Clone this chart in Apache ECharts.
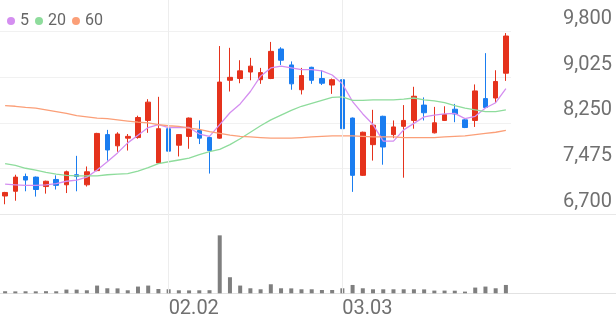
<!DOCTYPE html>
<html><head><meta charset="utf-8">
<script src="https://cdn.jsdelivr.net/npm/echarts@6/dist/echarts.min.js"></script>
<style>html,body{margin:0;padding:0;background:#fff}#c{width:616px;height:321px}</style>
</head><body><div id="c"></div>
<script>
const dates = ['2026-01-09','2026-01-12','2026-01-13','2026-01-14','2026-01-15','2026-01-16','2026-01-19','2026-01-20','2026-01-21','2026-01-22','2026-01-23','2026-01-26','2026-01-27','2026-01-28','2026-01-29','2026-01-30',
'2026-02-02','2026-02-03','2026-02-04','2026-02-05','2026-02-06','2026-02-09','2026-02-10','2026-02-11','2026-02-12','2026-02-13','2026-02-19','2026-02-20','2026-02-23','2026-02-24','2026-02-25','2026-02-26','2026-02-27',
'2026-03-03','2026-03-04','2026-03-05','2026-03-06','2026-03-09','2026-03-10','2026-03-11','2026-03-12','2026-03-13','2026-03-16','2026-03-17','2026-03-18','2026-03-19','2026-03-20','2026-03-23','2026-03-24','2026-03-25'];
const opens = [7010,7090,7340,7330,7170,7290,7200,7370,7200,7440, 8050,7860,7990,8000,8290,7570,8150,7870,8020,8120, 8000,7990,8970,9000,9110,8980,9000,9500,9230,8810, 9190,9000,8890,8980,8330,7360,7880,8360,8050,8190, 8290,8550,8080,8290,8480,8300,8290,8660,8670,9090];
const closes = [7070,7330,7280,7120,7260,7190,7420,7340,7420,8070, 7790,8060,8020,8340,8600,8150,7770,8050,8330,7990, 7780,8940,9020,9130,9210,9100,9460,9310,8910,9050, 8970,8920,8980,8150,7360,8090,8210,7840,8180,8290, 8700,8420,8250,8390,8400,8170,8790,8510,8950,9720];
const highs = [7080,7370,7390,7340,7270,7360,7440,7690,7510,8080, 8130,8090,8060,8370,8650,8690,8160,8060,8340,8290, 8020,9550,9520,9310,9350,9180,9620,9530,9290,9180, 9200,9140,9000,9050,8340,8100,8470,8370,8290,8550, 8860,8680,8520,8530,8570,8330,8900,9430,9140,9770];
const lows = [6870,6930,7090,7000,7050,7120,7060,7090,7170,7430, 7610,7760,7780,7980,8080,7560,7650,7680,7810,7890, 7390,7980,8780,8920,8970,8910,8990,9230,8810,8730, 8910,8890,8740,8090,7080,7350,7610,7540,7990,7320, 8150,8290,8070,8280,8260,8160,8180,8510,8590,8960];
const ma5 = [7210,7200,7190,7190,7200,7220,7260,7280,7330,7450, 7590,7740,7910,8040,8170,8220,8170,8170,8170,8060, 8020,8220,8420,8570,8780,9040,9180,9210,9180,9150, 9150,9130,9060,8910,8610,8400,8220,7940,7940,8130, 8240,8350,8380,8400,8410,8320,8360,8500,8590,8830];
const ma20 = [7560,7530,7480,7450,7410,7380,7360,7350,7350,7350, 7370,7380,7390,7430,7490,7560,7590,7620,7650,7710, 7760,7800,7880,7980,8090,8200,8300,8380,8460,8530, 8580,8630,8680,8690,8630,8630,8640,8640,8640,8650, 8670,8640,8620,8590,8540,8500,8470,8440,8440,8470];
const ma60 = [8540,8530,8510,8500,8470,8440,8410,8370,8350,8330, 8320,8300,8280,8260,8250,8220,8200,8190,8160,8140, 8100,8070,8040,8020,8010,8000,7990,7990,7990,8000, 8010,8020,8030,8030,8030,8020,8010,8010,8010,8000, 8000,8000,8000,8010,8020,8030,8050,8070,8090,8120];
const volumes = [41000,38000,40000,39000,42000,40000,74000,73000,60000,154000, 100000,98000,60000,134000,154000,86000,80000,60000,58000,60000, 62000,1154000,320000,154000,100000,80000,180000,100000,98000,80000, 80000,66000,66000,100000,166000,100000,80000,80000,80000,80000, 80000,78000,54000,54000,52000,34000,114000,134000,100000,166000];
const yTicks = [6700,7475,8250,9025,9800];
const maNames = ['5','20','60'];

const UP = '#e5321c', DOWN = '#1a7df0';
const maColors = ['#d48ef0','#8edc9c','#fb9f78'];
const ohlc = dates.map((d,i)=>[opens[i], closes[i], lows[i], highs[i]]);
const monthStart = dates.map((d,i)=> i>0 && d.slice(5,7)!==dates[i-1].slice(5,7));
const fmtDate = d => d.slice(5,7)+'.'+d.slice(8,10);
const FONT = 'Roboto';

const chart = echarts.init(document.getElementById('c'), null, {renderer:'canvas'});
const hiddenCat = (gi) => ({type:'category', gridIndex:gi, data:dates, boundaryGap:true, axisLine:{show:false}, axisTick:{show:false}, axisLabel:{show:false}, splitLine:{show:false}});
const option = {
  animation:false,
  backgroundColor:'#ffffff',
  legend:{data:maNames, left:2, top:8, icon:'circle', itemWidth:8, itemHeight:8, itemGap:6,
    textStyle:{fontSize:16, color:'#666', fontFamily:FONT, lineHeight:16}},
  grid:[
    {left:0, right:105, top:31.3, height:183},
    {left:0, right:105, top:225, bottom:27.7},
    {left:0, right:105, top:0, bottom:27.7},
    {left:0, right:0, top:31.3, height:183},
    {left:0, right:0, top:225, bottom:27.7}
  ],
  xAxis:[
    hiddenCat(0),
    {type:'category', gridIndex:1, data:dates, boundaryGap:true, axisLine:{show:false}, axisTick:{show:false}, splitLine:{show:false},
      axisLabel:{interval:(idx)=>monthStart[idx], formatter:fmtDate, align:'left', margin:6, fontSize:20, color:'#707070', fontFamily:FONT}},
    hiddenCat(2),
    {type:'value', gridIndex:3, min:0, max:1, axisLine:{show:true, lineStyle:{color:'#e8e8e8', width:1}}, axisTick:{show:false}, axisLabel:{show:false}, splitLine:{show:false}},
    {type:'value', gridIndex:4, min:0, max:1, axisLine:{show:true, lineStyle:{color:'#e2e2e2', width:1}}, axisTick:{show:false}, axisLabel:{show:false}, splitLine:{show:false}}
  ],
  yAxis:[
    {type:'value', gridIndex:0, position:'right', min:yTicks[0], max:yTicks[yTicks.length-1], interval:yTicks[1]-yTicks[0],
      axisLine:{show:false}, axisTick:{show:false},
      splitLine:{lineStyle:{color:'#f1f1f1', width:1}},
      axisLabel:{align:'right', margin:101, verticalAlign:'bottom', lineHeight:25, fontSize:20, color:'#707070', fontFamily:FONT,
        formatter:v=>v.toLocaleString('en-US')}},
    {type:'value', gridIndex:1, min:0, max:1360000, show:false, splitLine:{show:false}},
    {type:'value', gridIndex:2, min:0, max:1, show:false, splitLine:{show:false}},
    {type:'value', gridIndex:3, min:0, max:1, show:false, splitLine:{show:false}},
    {type:'value', gridIndex:4, min:0, max:1, show:false, splitLine:{show:false}}
  ],
  series:[
    {type:'line', name:'guide', xAxisIndex:2, yAxisIndex:2, data:[], silent:true,
      markLine:{symbol:'none', silent:true, animation:false, label:{show:false}, emphasis:{disabled:true},
        lineStyle:{color:'#ededed', width:1, type:'solid'},
        data: dates.filter((d,i)=>monthStart[i]).map(d=>({xAxis:d}))}},
    {type:'candlestick', name:'price', xAxisIndex:0, yAxisIndex:0, data:ohlc, barWidth:5,
      itemStyle:{color:UP, color0:DOWN, borderColor:UP, borderColor0:DOWN, borderWidth:1}},
    {type:'line', name:maNames[0], xAxisIndex:0, yAxisIndex:0, data:ma5, showSymbol:false, color:maColors[0], lineStyle:{width:1.3, color:maColors[0]}},
    {type:'line', name:maNames[1], xAxisIndex:0, yAxisIndex:0, data:ma20, showSymbol:false, color:maColors[1], lineStyle:{width:1.3, color:maColors[1]}},
    {type:'line', name:maNames[2], xAxisIndex:0, yAxisIndex:0, data:ma60, showSymbol:false, color:maColors[2], lineStyle:{width:1.3, color:maColors[2]}},
    {type:'bar', name:'volume', xAxisIndex:1, yAxisIndex:1, data:volumes, barWidth:4, itemStyle:{color:'#7f7f7f'}}
  ]
};
chart.setOption(option);
</script></body></html>
